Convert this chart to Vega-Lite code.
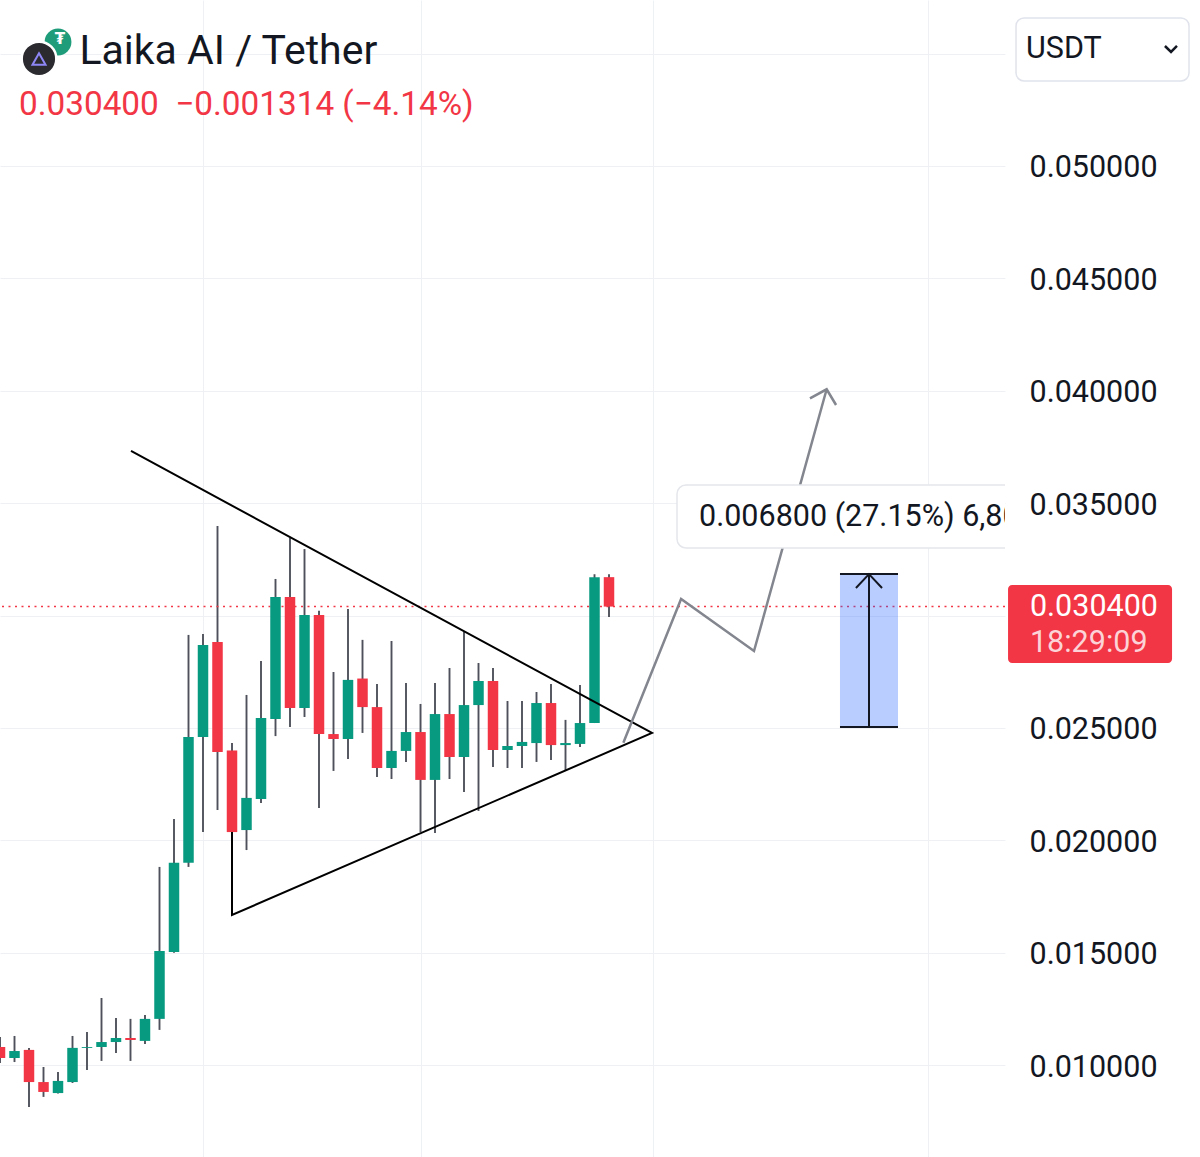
{
  "$schema": "https://vega.github.io/schema/vega-lite/v6.json",
  "width": 1005,
  "height": 1157,
  "autosize": {"type": "none"},
  "padding": {"left": 0, "top": 0, "right": 195, "bottom": 0},
  "background": "white",
  "config": {"view": {"stroke": null}, "font": "Roboto", "scale": {"continuousPadding": 0}},
  "datasets": {
    "candles": [
      {"i": 0, "open": 0.01081, "high": 0.01125, "low": 0.01010, "close": 0.01032},
      {"i": 1, "open": 0.01032, "high": 0.01130, "low": 0.01014, "close": 0.01063},
      {"i": 2, "open": 0.01068, "high": 0.01077, "low": 0.00814, "close": 0.00925},
      {"i": 3, "open": 0.00925, "high": 0.00992, "low": 0.00859, "close": 0.00881},
      {"i": 4, "open": 0.00876, "high": 0.00970, "low": 0.00874, "close": 0.00930},
      {"i": 5, "open": 0.00925, "high": 0.01130, "low": 0.00921, "close": 0.01077},
      {"i": 6, "open": 0.01077, "high": 0.01148, "low": 0.00979, "close": 0.01081},
      {"i": 7, "open": 0.01081, "high": 0.01299, "low": 0.01019, "close": 0.01103},
      {"i": 8, "open": 0.01103, "high": 0.01210, "low": 0.01054, "close": 0.01121},
      {"i": 9, "open": 0.01121, "high": 0.01206, "low": 0.01019, "close": 0.01112},
      {"i": 10, "open": 0.01108, "high": 0.01223, "low": 0.01094, "close": 0.01206},
      {"i": 11, "open": 0.01206, "high": 0.01882, "low": 0.01157, "close": 0.01508},
      {"i": 12, "open": 0.01504, "high": 0.02095, "low": 0.01500, "close": 0.01900},
      {"i": 13, "open": 0.01900, "high": 0.02914, "low": 0.01882, "close": 0.02460},
      {"i": 14, "open": 0.02460, "high": 0.02918, "low": 0.02037, "close": 0.02869},
      {"i": 15, "open": 0.02883, "high": 0.03399, "low": 0.02135, "close": 0.02393},
      {"i": 16, "open": 0.02400, "high": 0.02433, "low": 0.02035, "close": 0.02037},
      {"i": 17, "open": 0.02046, "high": 0.02647, "low": 0.01957, "close": 0.02189},
      {"i": 18, "open": 0.02184, "high": 0.02798, "low": 0.02166, "close": 0.02545},
      {"i": 19, "open": 0.02540, "high": 0.03163, "low": 0.02464, "close": 0.03083},
      {"i": 20, "open": 0.03083, "high": 0.03345, "low": 0.02504, "close": 0.02589},
      {"i": 21, "open": 0.02589, "high": 0.03296, "low": 0.02549, "close": 0.03003},
      {"i": 22, "open": 0.03003, "high": 0.03021, "low": 0.02144, "close": 0.02473},
      {"i": 23, "open": 0.02473, "high": 0.02749, "low": 0.02309, "close": 0.02451},
      {"i": 24, "open": 0.02451, "high": 0.03029, "low": 0.02362, "close": 0.02714},
      {"i": 25, "open": 0.02720, "high": 0.02892, "low": 0.02478, "close": 0.02593},
      {"i": 26, "open": 0.02593, "high": 0.02696, "low": 0.02282, "close": 0.02322},
      {"i": 27, "open": 0.02322, "high": 0.02887, "low": 0.02273, "close": 0.02398},
      {"i": 28, "open": 0.02398, "high": 0.02700, "low": 0.02349, "close": 0.02482},
      {"i": 29, "open": 0.02482, "high": 0.02607, "low": 0.02037, "close": 0.02269},
      {"i": 30, "open": 0.02269, "high": 0.02700, "low": 0.02033, "close": 0.02562},
      {"i": 31, "open": 0.02562, "high": 0.02767, "low": 0.02273, "close": 0.02371},
      {"i": 32, "open": 0.02371, "high": 0.02927, "low": 0.02215, "close": 0.02602},
      {"i": 33, "open": 0.02602, "high": 0.02789, "low": 0.02131, "close": 0.02709},
      {"i": 34, "open": 0.02709, "high": 0.02767, "low": 0.02327, "close": 0.02402},
      {"i": 35, "open": 0.02402, "high": 0.02620, "low": 0.02322, "close": 0.02420},
      {"i": 36, "open": 0.02420, "high": 0.02620, "low": 0.02322, "close": 0.02438},
      {"i": 37, "open": 0.02433, "high": 0.02660, "low": 0.02349, "close": 0.02611},
      {"i": 38, "open": 0.02611, "high": 0.02696, "low": 0.02358, "close": 0.02424},
      {"i": 39, "open": 0.02424, "high": 0.02536, "low": 0.02313, "close": 0.02433},
      {"i": 40, "open": 0.02429, "high": 0.02691, "low": 0.02416, "close": 0.02522},
      {"i": 41, "open": 0.02522, "high": 0.03184, "low": 0.02522, "close": 0.03171},
      {"i": 42, "open": 0.03171, "high": 0.03184, "low": 0.02994, "close": 0.03040}
    ],
    "triangle": [
      {"seq": 0, "x": 9.034, "y": 0.037322},
      {"seq": 1, "x": 44.966, "y": 0.024778},
      {"seq": 2, "x": 16.0, "y": 0.016682},
      {"seq": 3, "x": 16.0, "y": 0.02037}
    ],
    "projection": [
      {"part": "path", "seq": 0, "x": 42.99, "y": 0.024346},
      {"part": "path", "seq": 1, "x": 46.97, "y": 0.030738},
      {"part": "path", "seq": 2, "x": 52.0, "y": 0.028425},
      {"part": "path", "seq": 3, "x": 57.01, "y": 0.040067},
      {"part": "head", "seq": 0, "x": 55.86, "y": 0.039666},
      {"part": "head", "seq": 1, "x": 57.01, "y": 0.040067},
      {"part": "head", "seq": 2, "x": 57.66, "y": 0.039368}
    ],
    "range": [
      {"start": 57.93, "end": 61.93, "mid": 59.93, "low": 0.025046, "high": 0.031846}
    ],
    "range_head": [
      {"seq": 0, "x": 59.03, "y": 0.031228},
      {"seq": 1, "x": 59.93, "y": 0.031846},
      {"seq": 2, "x": 60.83, "y": 0.031228}
    ],
    "range_label": [
      {"x0": 46.69, "x1": 75, "top": 0.03581, "bottom": 0.033007, "tx": 48.21, "ty": 0.034386, "text": "0.006800 (27.15%) 6,800"}
    ],
    "last_price": [
      {"x0": 69.52, "x1": 80.83, "top": 0.031361, "bottom": 0.027891, "tx": 71.03, "price": 0.0304, "ty2": 0.028781, "label": "0.030400", "countdown": "18:29:09"}
    ],
    "currency": [
      {"x0": 70.07, "x1": 82.0, "top": 0.056584, "bottom": 0.053781, "tx": 70.76, "ty": 0.055205, "label": "USDT"}
    ],
    "chevron": [
      {"seq": 0, "x": 80.34, "y": 0.055338},
      {"seq": 1, "x": 80.76, "y": 0.055071},
      {"seq": 2, "x": 81.17, "y": 0.055338}
    ],
    "header": [
      {"x": 5.48, "y": 0.054537, "text": "Laika AI / Tether"}
    ],
    "subheader": [
      {"x": 1.31, "y": 0.052269, "text": "0.030400\u00a0\u00a0−0.001314 (−4.14%)"}
    ],
    "logo_tether": [{"x": 4.0, "y": 0.055516, "symbol": "₮"}],
    "logo_laika": [{"x": 2.69, "y": 0.05476}]
  },
  "layer": [
    {
      "data": {"name": "candles"},
      "mark": {"type": "rule", "color": "#4e515b", "strokeWidth": 1.9, "clip": true},
      "encoding": {
        "x": {"field": "i", "type": "quantitative", "scale": {"domain": [0, 69.31], "nice": false, "zero": false, "padding": 0},
          "axis": {"values": [14, 29, 45, 64], "grid": true, "gridColor": "#eef0f3", "gridWidth": 1, "labels": false, "ticks": false, "domain": false, "title": null}},
        "y": {"field": "low", "type": "quantitative", "scale": {"domain": [0.005916, 0.057384], "nice": false, "zero": false, "padding": 0},
          "axis": {"orient": "right", "values": [0.01, 0.015, 0.02, 0.025, 0.03, 0.035, 0.04, 0.045, 0.05, 0.055], "grid": true, "gridColor": "#eef0f3", "gridWidth": 1, "domain": false, "ticks": false, "tickSize": 0, "labelPadding": 24, "labelOffset": 2, "labelFontSize": 30.5, "labelFont": "Roboto", "labelColor": "#131722", "labelExpr": "abs(datum.value - 0.03) < 1e-9 || abs(datum.value - 0.055) < 1e-9 ? '' : format(datum.value, '.6f')", "title": null}},
        "y2": {"field": "high"}
      }
    },
    {
      "data": {"values": [{"price": 0.0304}]},
      "mark": {"type": "rule", "color": "#F23645", "strokeDash": [2, 4.5], "strokeWidth": 1.5},
      "encoding": {
        "y": {"field": "price", "type": "quantitative", "scale": {"domain": [0.005916, 0.057384], "nice": false, "zero": false, "padding": 0}}
      }
    },
    {
      "data": {"name": "candles"},
      "mark": {"type": "bar", "width": 10.5, "clip": true},
      "encoding": {
        "x": {"field": "i", "type": "quantitative", "scale": {"domain": [0, 69.31], "nice": false, "zero": false, "padding": 0}},
        "y": {"field": "open", "type": "quantitative", "scale": {"domain": [0.005916, 0.057384], "nice": false, "zero": false, "padding": 0}},
        "y2": {"field": "close"},
        "color": {"condition": {"test": "datum.close >= datum.open", "value": "#089981"}, "value": "#F23645"}
      }
    },
    {
      "data": {"name": "triangle"},
      "mark": {"type": "line", "color": "#000000", "strokeWidth": 2, "clip": true},
      "encoding": {
        "x": {"field": "x", "type": "quantitative", "scale": {"domain": [0, 69.31], "nice": false, "zero": false, "padding": 0}},
        "y": {"field": "y", "type": "quantitative", "scale": {"domain": [0.005916, 0.057384], "nice": false, "zero": false, "padding": 0}},
        "order": {"field": "seq"}
      }
    },
    {
      "data": {"name": "projection"},
      "mark": {"type": "line", "color": "#83868e", "strokeWidth": 2.5, "clip": true},
      "encoding": {
        "x": {"field": "x", "type": "quantitative", "scale": {"domain": [0, 69.31], "nice": false, "zero": false, "padding": 0}},
        "y": {"field": "y", "type": "quantitative", "scale": {"domain": [0.005916, 0.057384], "nice": false, "zero": false, "padding": 0}},
        "detail": {"field": "part"},
        "order": {"field": "seq"}
      }
    },
    {
      "data": {"name": "range"},
      "mark": {"type": "rect", "color": "#2962ff", "opacity": 0.32, "clip": true},
      "encoding": {
        "x": {"field": "start", "type": "quantitative", "scale": {"domain": [0, 69.31], "nice": false, "zero": false, "padding": 0}},
        "x2": {"field": "end"},
        "y": {"field": "low", "type": "quantitative", "scale": {"domain": [0.005916, 0.057384], "nice": false, "zero": false, "padding": 0}},
        "y2": {"field": "high"}
      }
    },
    {
      "data": {"name": "range"},
      "mark": {"type": "rule", "color": "#131722", "strokeWidth": 2, "clip": true},
      "encoding": {
        "x": {"field": "start", "type": "quantitative", "scale": {"domain": [0, 69.31], "nice": false, "zero": false, "padding": 0}},
        "x2": {"field": "end"},
        "y": {"field": "low", "type": "quantitative", "scale": {"domain": [0.005916, 0.057384], "nice": false, "zero": false, "padding": 0}}
      }
    },
    {
      "data": {"name": "range"},
      "mark": {"type": "rule", "color": "#131722", "strokeWidth": 2, "clip": true},
      "encoding": {
        "x": {"field": "start", "type": "quantitative", "scale": {"domain": [0, 69.31], "nice": false, "zero": false, "padding": 0}},
        "x2": {"field": "end"},
        "y": {"field": "high", "type": "quantitative", "scale": {"domain": [0.005916, 0.057384], "nice": false, "zero": false, "padding": 0}}
      }
    },
    {
      "data": {"name": "range"},
      "mark": {"type": "rule", "color": "#131722", "strokeWidth": 2, "clip": true},
      "encoding": {
        "x": {"field": "mid", "type": "quantitative", "scale": {"domain": [0, 69.31], "nice": false, "zero": false, "padding": 0}},
        "y": {"field": "low", "type": "quantitative", "scale": {"domain": [0.005916, 0.057384], "nice": false, "zero": false, "padding": 0}},
        "y2": {"field": "high"}
      }
    },
    {
      "data": {"name": "range_head"},
      "mark": {"type": "line", "color": "#131722", "strokeWidth": 2, "clip": true},
      "encoding": {
        "x": {"field": "x", "type": "quantitative", "scale": {"domain": [0, 69.31], "nice": false, "zero": false, "padding": 0}},
        "y": {"field": "y", "type": "quantitative", "scale": {"domain": [0.005916, 0.057384], "nice": false, "zero": false, "padding": 0}},
        "order": {"field": "seq"}
      }
    },
    {
      "data": {"name": "range_label"},
      "mark": {"type": "rect", "fill": "#ffffff", "stroke": "#e4e6eb", "strokeWidth": 1.5, "cornerRadius": 9, "clip": true},
      "encoding": {
        "x": {"field": "x0", "type": "quantitative", "scale": {"domain": [0, 69.31], "nice": false, "zero": false, "padding": 0}},
        "x2": {"field": "x1"},
        "y": {"field": "bottom", "type": "quantitative", "scale": {"domain": [0.005916, 0.057384], "nice": false, "zero": false, "padding": 0}},
        "y2": {"field": "top"}
      }
    },
    {
      "data": {"name": "range_label"},
      "mark": {"type": "text", "align": "left", "baseline": "middle", "fontSize": 30.5, "font": "Roboto", "color": "#131722", "clip": true},
      "encoding": {
        "x": {"field": "tx", "type": "quantitative", "scale": {"domain": [0, 69.31], "nice": false, "zero": false, "padding": 0}},
        "y": {"field": "ty", "type": "quantitative", "scale": {"domain": [0.005916, 0.057384], "nice": false, "zero": false, "padding": 0}},
        "text": {"field": "text"}
      }
    },
    {
      "data": {"name": "last_price"},
      "mark": {"type": "rect", "fill": "#F23645", "cornerRadius": 4},
      "encoding": {
        "x": {"field": "x0", "type": "quantitative", "scale": {"domain": [0, 69.31], "nice": false, "zero": false, "padding": 0}},
        "x2": {"field": "x1"},
        "y": {"field": "bottom", "type": "quantitative", "scale": {"domain": [0.005916, 0.057384], "nice": false, "zero": false, "padding": 0}},
        "y2": {"field": "top"}
      }
    },
    {
      "data": {"name": "last_price"},
      "mark": {"type": "text", "align": "left", "baseline": "middle", "fontSize": 30.5, "font": "Roboto", "color": "#ffffff"},
      "encoding": {
        "x": {"field": "tx", "type": "quantitative", "scale": {"domain": [0, 69.31], "nice": false, "zero": false, "padding": 0}},
        "y": {"field": "price", "type": "quantitative", "scale": {"domain": [0.005916, 0.057384], "nice": false, "zero": false, "padding": 0}},
        "text": {"field": "label"}
      }
    },
    {
      "data": {"name": "last_price"},
      "mark": {"type": "text", "align": "left", "baseline": "middle", "fontSize": 30.5, "font": "Roboto", "color": "#fcd3d7"},
      "encoding": {
        "x": {"field": "tx", "type": "quantitative", "scale": {"domain": [0, 69.31], "nice": false, "zero": false, "padding": 0}},
        "y": {"field": "ty2", "type": "quantitative", "scale": {"domain": [0.005916, 0.057384], "nice": false, "zero": false, "padding": 0}},
        "text": {"field": "countdown"}
      }
    },
    {
      "data": {"name": "currency"},
      "mark": {"type": "rect", "fill": "#ffffff", "stroke": "#e0e3eb", "strokeWidth": 1.5, "cornerRadius": 8},
      "encoding": {
        "x": {"field": "x0", "type": "quantitative", "scale": {"domain": [0, 69.31], "nice": false, "zero": false, "padding": 0}},
        "x2": {"field": "x1"},
        "y": {"field": "bottom", "type": "quantitative", "scale": {"domain": [0.005916, 0.057384], "nice": false, "zero": false, "padding": 0}},
        "y2": {"field": "top"}
      }
    },
    {
      "data": {"name": "currency"},
      "mark": {"type": "text", "align": "left", "baseline": "middle", "fontSize": 30.5, "font": "Roboto", "color": "#131722"},
      "encoding": {
        "x": {"field": "tx", "type": "quantitative", "scale": {"domain": [0, 69.31], "nice": false, "zero": false, "padding": 0}},
        "y": {"field": "ty", "type": "quantitative", "scale": {"domain": [0.005916, 0.057384], "nice": false, "zero": false, "padding": 0}},
        "text": {"field": "label"}
      }
    },
    {
      "data": {"name": "chevron"},
      "mark": {"type": "line", "color": "#131722", "strokeWidth": 2.5},
      "encoding": {
        "x": {"field": "x", "type": "quantitative", "scale": {"domain": [0, 69.31], "nice": false, "zero": false, "padding": 0}},
        "y": {"field": "y", "type": "quantitative", "scale": {"domain": [0.005916, 0.057384], "nice": false, "zero": false, "padding": 0}},
        "order": {"field": "seq"}
      }
    },
    {
      "data": {"name": "logo_tether"},
      "mark": {"type": "point", "shape": "circle", "filled": true, "fill": "#1f9d7a", "opacity": 1, "size": 720},
      "encoding": {
        "x": {"field": "x", "type": "quantitative", "scale": {"domain": [0, 69.31], "nice": false, "zero": false, "padding": 0}},
        "y": {"field": "y", "type": "quantitative", "scale": {"domain": [0.005916, 0.057384], "nice": false, "zero": false, "padding": 0}}
      }
    },
    {
      "data": {"name": "logo_tether"},
      "mark": {"type": "text", "align": "center", "baseline": "middle", "fontSize": 15, "fontWeight": "bold", "font": "DejaVu Sans", "color": "#ffffff", "dx": 2, "dy": -3},
      "encoding": {
        "x": {"field": "x", "type": "quantitative", "scale": {"domain": [0, 69.31], "nice": false, "zero": false, "padding": 0}},
        "y": {"field": "y", "type": "quantitative", "scale": {"domain": [0.005916, 0.057384], "nice": false, "zero": false, "padding": 0}},
        "text": {"field": "symbol"}
      }
    },
    {
      "data": {"name": "logo_laika"},
      "mark": {"type": "point", "shape": "circle", "filled": true, "fill": "#2a2a2f", "stroke": "#ffffff", "strokeWidth": 2.5, "opacity": 1, "size": 1200},
      "encoding": {
        "x": {"field": "x", "type": "quantitative", "scale": {"domain": [0, 69.31], "nice": false, "zero": false, "padding": 0}},
        "y": {"field": "y", "type": "quantitative", "scale": {"domain": [0.005916, 0.057384], "nice": false, "zero": false, "padding": 0}}
      }
    },
    {
      "data": {"name": "logo_laika"},
      "mark": {"type": "point", "shape": "triangle-up", "filled": false, "stroke": "#8f86f5", "strokeWidth": 2, "opacity": 1, "size": 170},
      "encoding": {
        "x": {"field": "x", "type": "quantitative", "scale": {"domain": [0, 69.31], "nice": false, "zero": false, "padding": 0}},
        "y": {"field": "y", "type": "quantitative", "scale": {"domain": [0.005916, 0.057384], "nice": false, "zero": false, "padding": 0}}
      }
    },
    {
      "data": {"name": "header"},
      "mark": {"type": "text", "align": "left", "baseline": "alphabetic", "fontSize": 41, "font": "Roboto", "color": "#131722"},
      "encoding": {
        "x": {"field": "x", "type": "quantitative", "scale": {"domain": [0, 69.31], "nice": false, "zero": false, "padding": 0}},
        "y": {"field": "y", "type": "quantitative", "scale": {"domain": [0.005916, 0.057384], "nice": false, "zero": false, "padding": 0}},
        "text": {"field": "text"}
      }
    },
    {
      "data": {"name": "subheader"},
      "mark": {"type": "text", "align": "left", "baseline": "alphabetic", "fontSize": 33.3, "font": "Roboto", "color": "#F23645"},
      "encoding": {
        "x": {"field": "x", "type": "quantitative", "scale": {"domain": [0, 69.31], "nice": false, "zero": false, "padding": 0}},
        "y": {"field": "y", "type": "quantitative", "scale": {"domain": [0.005916, 0.057384], "nice": false, "zero": false, "padding": 0}},
        "text": {"field": "text"}
      }
    }
  ]
}
